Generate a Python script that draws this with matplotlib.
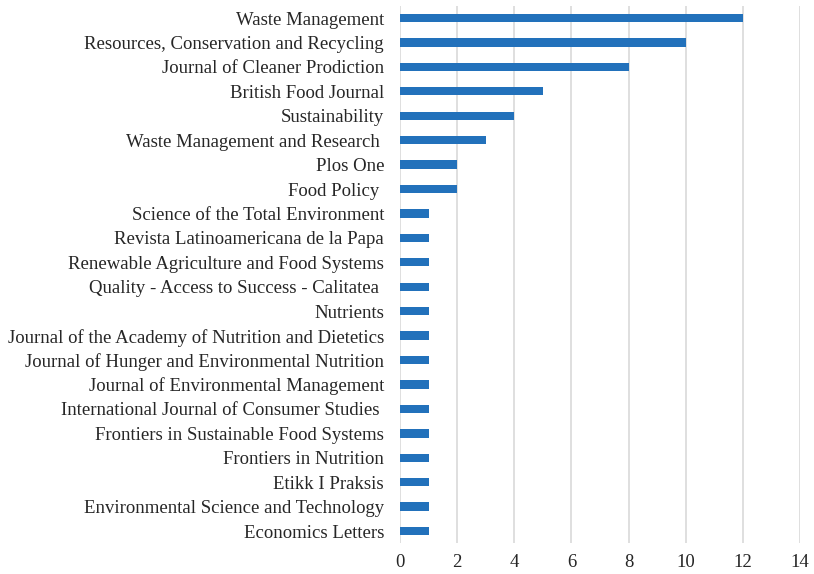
import matplotlib
matplotlib.use("Agg")
import matplotlib.pyplot as plt

journals = [
    "Waste Management",
    "Resources, Conservation and Recycling",
    "Journal of Cleaner Prodiction",
    "British Food Journal",
    "Sustainability",
    "Waste Management and Research ",
    "Plos One",
    "Food Policy ",
    "Science of the Total Environment",
    "Revista Latinoamericana de la Papa",
    "Renewable Agriculture and Food Systems",
    "Quality - Access to Success - Calitatea ",
    "Nutrients",
    "Journal of the Academy of Nutrition and Dietetics",
    "Journal of Hunger and Environmental Nutrition",
    "Journal of Environmental Management",
    "International Journal of Consumer Studies ",
    "Frontiers in Sustainable Food Systems",
    "Frontiers in Nutrition",
    "Etikk I Praksis",
    "Environmental Science and Technology",
    "Economics Letters",
]
counts = [12, 10, 8, 5, 4, 3, 2, 2, 1, 1, 1, 1, 1, 1, 1, 1, 1, 1, 1, 1, 1, 1]
x_ticks = [0, 2, 4, 6, 8, 10, 12, 14]

plt.rcParams['font.family'] = ['Liberation Serif', 'DejaVu Serif']

fig = plt.figure(figsize=(8.14, 5.74), dpi=100)
ax = fig.add_axes([400/814, 1 - 543.3/574, 400/814, 537.5/574])

pos = list(range(len(journals)))
ax.barh(pos, counts, height=0.34, color='#2271bb', zorder=3)
ax.set_ylim(len(journals) - 0.5, -0.5)
ax.set_xlim(0, 14)
ax.set_xticks(x_ticks)
ax.set_yticks(pos)
ax.set_yticklabels(journals)
ax.grid(axis='x', color='#d9d9d9', linewidth=1.2, zorder=0)
ax.grid(axis='y', visible=False)
for s in ax.spines.values():
    s.set_visible(False)
ax.tick_params(axis='both', length=0, labelsize=13.5, colors='#262626')
ax.tick_params(axis='y', pad=11.5)
ax.tick_params(axis='x', pad=8)

fig.savefig("out.png", dpi=100)
